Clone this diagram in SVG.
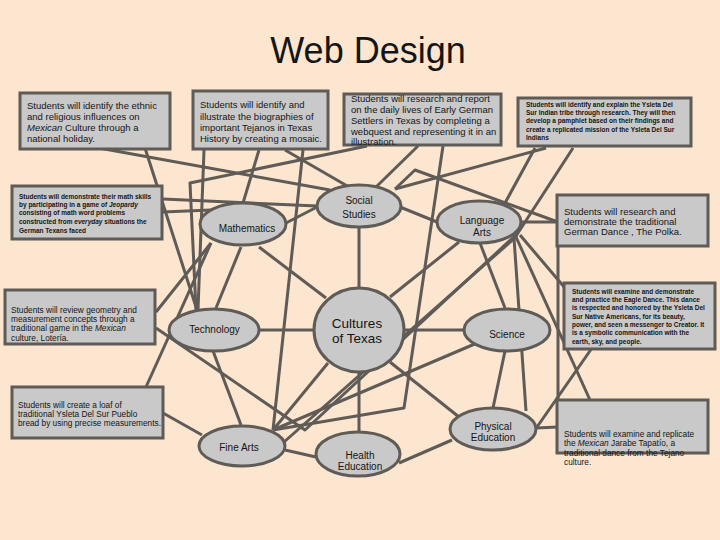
<svg xmlns="http://www.w3.org/2000/svg" width="720" height="540" viewBox="0 0 720 540">
<style>
.bg{fill:#FCE6CF}
.box{fill:#C9C9C9;stroke:#5F5B57;stroke-width:3}
.node{fill:#C9C9C9;stroke:#5F5B57;stroke-width:3}
.c{fill:none;stroke:#5F5B57;stroke-width:3;stroke-linejoin:round}
.t{font-family:"Liberation Sans",Arial,sans-serif;fill:#151515}
.s{font-size:9.5px}
.m{font-size:8.3px}
.xs{font-size:6.5px;font-weight:bold}
.n{font-size:10px;text-anchor:middle}
.i{font-style:italic}
</style>
<rect class="bg" x="0" y="0" width="720" height="540"/>
<text class="t" x="368" y="63" font-size="36" text-anchor="middle">Web Design</text>
<g id="connectors">
<polyline class="c" points="99,148 330,190"/>
<polyline class="c" points="145,148 197,310"/>
<polyline class="c" points="204,150 198,310"/>
<polyline class="c" points="367,146 190,183 196,310"/>
<polyline class="c" points="259,150 243,203"/>
<polyline class="c" points="285,150 349,187"/>
<polyline class="c" points="303,150 273,430"/>
<polyline class="c" points="418,146 376,187"/>
<polyline class="c" points="443,146 404,408 273,430"/>
<polyline class="c" points="546,148 395,189"/>
<polyline class="c" points="535,148 505,203"/>
<polyline class="c" points="573,148 516,236"/>
<polyline class="c" points="395,189 415,170 558,222"/>
<polyline class="c" points="163,199 317,206"/>
<polyline class="c" points="163,212 211,210"/>
<polyline class="c" points="156,312 211,243"/>
<polyline class="c" points="146,387 211,243"/>
<polyline class="c" points="163,413 202,435"/>
<polyline class="c" points="156,328 305,430 518,233"/>
<polyline class="c" points="284,442 517,236"/>
<polyline class="c" points="273,430 477,343"/>
<polyline class="c" points="286,223 317,207"/>
<polyline class="c" points="400,207 437,222"/>
<polyline class="c" points="359,226 359,288"/>
<polyline class="c" points="259,247 326,298"/>
<polyline class="c" points="241,247 216,308"/>
<polyline class="c" points="260,330 314,330"/>
<polyline class="c" points="404,330 464,330"/>
<polyline class="c" points="390,297 459,242"/>
<polyline class="c" points="390,362 459,417"/>
<polyline class="c" points="328,363 273,430"/>
<polyline class="c" points="359,372 359,433"/>
<polyline class="c" points="213,351 241,425"/>
<polyline class="c" points="480,243 505,308"/>
<polyline class="c" points="522,222 558,222"/>
<polyline class="c" points="516,237 590,400"/>
<polyline class="c" points="514,238 526,411"/>
<polyline class="c" points="558,246 558,400"/>
<polyline class="c" points="505,351 493,408"/>
<polyline class="c" points="452,440 399,463"/>
<polyline class="c" points="285,450 316,457"/>
<polyline class="c" points="536,428 558,427"/>
<polyline class="c" points="537,427 592,348"/>
<polyline class="c" points="520,235 565,288"/>
</g>
<g id="boxA"><rect class="box" x="20" y="93" width="150" height="56"/>
<text class="t s" x="27" y="108.5">Students will identify the ethnic</text>
<text class="t s" x="27" y="119.5">and religious influences on</text>
<text class="t s" x="27" y="130.5"><tspan class="i">Mexican</tspan> Culture through a</text>
<text class="t s" x="27" y="141.5">national holiday.</text></g>
<g id="boxB"><rect class="box" x="193" y="91" width="135" height="58"/>
<text class="t s" x="200" y="107.5">Students will identify and</text>
<text class="t s" x="200" y="119.5">illustrate the biographies of</text>
<text class="t s" x="200" y="131">important Tejanos in Texas</text>
<text class="t s" x="200" y="142">History by creating a mosaic.</text></g>
<g id="boxC"><rect class="box" x="344" y="94" width="157" height="51"/>
<text class="t s" x="351" y="101.5">Students will research and report</text>
<text class="t s" x="351" y="112.5">on the daily lives of Early German</text>
<text class="t s" x="351" y="123.5">Settlers in Texas by completing a</text>
<text class="t s" x="351" y="134.5">webquest and representing it in an</text>
<text class="t s" x="351" y="145">illustration.</text></g>
<g id="boxD"><rect class="box" x="518" y="98" width="173" height="48"/>
<text class="t xs" x="526" y="107">Students will identify and explain the Ysleta Del</text>
<text class="t xs" x="526" y="115">Sur Indian tribe through research. They will then</text>
<text class="t xs" x="526" y="123">develop a  pamphlet based on their findings and</text>
<text class="t xs" x="526" y="131.5">create a replicated mission of the Ysleta Del Sur</text>
<text class="t xs" x="526" y="140">Indians</text></g>
<g id="boxE"><rect class="box" x="12" y="186" width="150" height="53"/>
<text class="t xs" x="19" y="198.5">Students will demonstrate their math skills</text>
<text class="t xs" x="19" y="207">by participating in a game of <tspan class="i">Jeopardy</tspan></text>
<text class="t xs" x="19" y="215">consisting of math word problems</text>
<text class="t xs" x="19" y="224">constructed from <tspan class="i">everyday</tspan> situations the</text>
<text class="t xs" x="19" y="232.5">German Texans faced</text></g>
<g id="boxF"><rect class="box" x="557" y="195" width="151" height="51"/>
<text class="t s" x="564" y="214.5">Students will research and</text>
<text class="t s" x="564" y="224.5">demonstrate the traditional</text>
<text class="t s" x="564" y="234.5">German Dance , The Polka.</text></g>
<g id="boxG"><rect class="box" x="5" y="290" width="150" height="54"/>
<text class="t m" x="11" y="313">Students will review geometry and</text>
<text class="t m" x="11" y="322">measurement concepts through a</text>
<text class="t m" x="11" y="331">traditional game in the <tspan class="i">Mexican</tspan></text>
<text class="t m" x="11" y="340.5">culture, Lotería.</text></g>
<g id="boxH"><rect class="box" x="564" y="283" width="151" height="66"/>
<text class="t xs" x="572" y="293.5">Students will examine and demonstrate</text>
<text class="t xs" x="572" y="302">and practice the Eagle Dance. This dance</text>
<text class="t xs" x="572" y="310">is respected and honored by the Ysleta Del</text>
<text class="t xs" x="572" y="318.5">Sur Native Americans, for its beauty,</text>
<text class="t xs" x="572" y="327">power, and seen a messenger to Creator. It</text>
<text class="t xs" x="572" y="335">is a symbolic communication with the</text>
<text class="t xs" x="572" y="343.5">earth, sky, and people.</text></g>
<g id="boxI"><rect class="box" x="12" y="387" width="151" height="51"/>
<text class="t m" x="18" y="408">Students will create a loaf of</text>
<text class="t m" x="18" y="417">traditional Ysleta Del Sur Pueblo</text>
<text class="t m" x="18" y="426">bread by using precise measurements.</text></g>
<g id="boxJ"><rect class="box" x="557" y="400" width="151" height="53"/>
<text class="t m" x="564" y="436.5">Students will examine and replicate</text>
<text class="t m" x="564" y="446">the <tspan class="i">Mexican</tspan> Jarabe Tapatío, a</text>
<text class="t m" x="564" y="456">traditional dance from the Tejano</text>
<text class="t m" x="564" y="465">culture.</text></g>
<g id="socialStudies"><ellipse class="node" cx="359" cy="206" rx="42" ry="21"/>
<text class="t n" x="359" y="204">Social</text><text class="t n" x="359" y="217.5">Studies</text></g>
<g id="mathematics"><ellipse class="node" cx="243" cy="224" rx="43" ry="21"/>
<text class="t n" x="247" y="232">Mathematics</text></g>
<g id="languageArts"><ellipse class="node" cx="479" cy="222" rx="42" ry="21"/>
<text class="t n" x="482" y="224">Language</text><text class="t n" x="482" y="236">Arts</text></g>
<g id="cultures"><ellipse class="node" cx="359" cy="330" rx="45" ry="42"/>
<text class="t" x="357" y="327.5" font-size="13.5" text-anchor="middle">Cultures</text>
<text class="t" x="357" y="343" font-size="13.5" text-anchor="middle">of Texas</text></g>
<g id="technology"><ellipse class="node" cx="214" cy="330" rx="45" ry="21"/>
<text class="t n" x="214.5" y="333">Technology</text></g>
<g id="science"><ellipse class="node" cx="507" cy="330" rx="43" ry="21"/>
<text class="t n" x="507" y="337.5">Science</text></g>
<g id="fineArts"><ellipse class="node" cx="242" cy="446" rx="43" ry="20"/>
<text class="t n" x="239" y="451">Fine Arts</text></g>
<g id="healthEducation"><ellipse class="node" cx="358" cy="454" rx="42" ry="22"/>
<text class="t n" x="360" y="458.5">Health</text><text class="t n" x="360" y="470">Education</text></g>
<g id="physicalEducation"><ellipse class="node" cx="493" cy="429" rx="43" ry="21"/>
<text class="t n" x="493" y="429.5">Physical</text><text class="t n" x="493" y="441">Education</text></g>
</svg>
